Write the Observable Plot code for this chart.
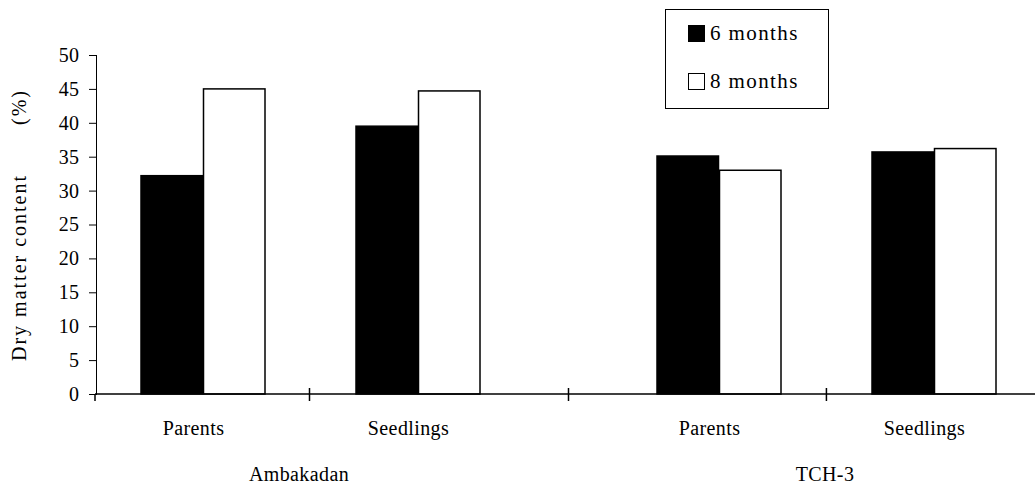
<!DOCTYPE html>
<html>
<head>
<meta charset="utf-8">
<script src="https://cdn.jsdelivr.net/npm/d3@7"></script>
<script src="https://cdn.jsdelivr.net/npm/@observablehq/plot@0.6"></script>
<style>
  html, body { margin: 0; padding: 0; background: #fff; overflow: hidden; }
  #wrap { position: relative; width: 1042px; height: 485px; overflow: hidden; }
  #wrap svg { display: block; max-width: none !important; }
  #wrap svg text { font-family: "Liberation Serif", "Times New Roman", serif; letter-spacing: 0.4px; }
  #legend {
    position: absolute; left: 665px; top: 9px; width: 164px; height: 100px;
    box-sizing: border-box; border: 1.5px solid #000; background: #fff;
    font-family: "Liberation Serif", "Times New Roman", serif; font-size: 21px; letter-spacing: 1.4px; color: #000;
  }
  .item { position: absolute; left: 22px; display: flex; align-items: center; white-space: nowrap; }
  .sw { width: 17px; height: 17px; box-sizing: border-box; border: 1.5px solid #000; margin-right: 5px; }
</style>
</head>
<body>
<div id="wrap"></div>
<script>
// ---- data ----
const groups = ["Ambakadan", "TCH-3"];
const stages = ["Parents", "Seedlings"];
const series = ["6 months", "8 months"];
// order: Ambakadan-Parents, Ambakadan-Seedlings, TCH-3-Parents, TCH-3-Seedlings
const sixMonths = [32.2, 39.5, 35.1, 35.7];
const eightMonths = [45.0, 44.7, 33.0, 36.2];
const yTicks = [0, 5, 10, 15, 20, 25, 30, 35, 40, 45, 50];
const yLabel = "Dry matter content\u00a0\u00a0\u00a0\u00a0\u00a0\u00a0\u00a0(%)";

const rows = [];
groups.forEach((g, gi) => stages.forEach((s, si) => {
  const k = gi * stages.length + si;
  rows.push({group: g, stage: s, series: series[0], value: sixMonths[k]});
  rows.push({group: g, stage: s, series: series[1], value: eightMonths[k]});
}));

const halfBand = 62.5;

const chart = Plot.plot({
  width: 1042,
  height: 485,
  marginLeft: 95,
  marginRight: 0,
  marginTop: 55,
  marginBottom: 91,
  style: {fontFamily: "'Liberation Serif', 'Times New Roman', serif", fontSize: "20px", color: "#000", background: "#fff", maxWidth: "none"},
  facet: {data: rows, x: "group"},
  fx: {domain: groups, axis: "bottom", paddingInner: 0.168, paddingOuter: 0, tickSize: 0, tickPadding: 72, label: null},
  x: {domain: stages, paddingInner: 0.421, paddingOuter: 0.206, tickSize: 0, tickPadding: 26, label: null},
  y: {domain: [0, 50], ticks: yTicks, tickSize: 7, tickPadding: 10, line: true,
      label: yLabel, labelAnchor: "center", labelArrow: false, labelOffset: 85, tickFormat: d => String(d)},
  marks: [
    Plot.barY(rows, {filter: d => d.series === series[0], x: "stage", y: "value",
      fill: "black", stroke: "black", strokeWidth: 1.5, insetLeft: 0, insetRight: halfBand}),
    Plot.barY(rows, {filter: d => d.series === series[1], x: "stage", y: "value",
      fill: "white", stroke: "black", strokeWidth: 1.5, insetLeft: halfBand, insetRight: 0})
  ]
});

document.getElementById("wrap").appendChild(chart);

// ---- category axis line and ticks, positioned through Plot's scales ----
function band(s) {
  return d3.scaleBand().domain(s.domain).range(s.range)
    .paddingInner(s.paddingInner ?? 0).paddingOuter(s.paddingOuter ?? 0)
    .align(s.align ?? 0.5);
}
const fxS = chart.scale("fx"), xS = chart.scale("x"), yS = chart.scale("y");
const fx = band(fxS), x = band(xS);
const y = d3.scaleLinear().domain(yS.domain).range(yS.range);
const y0 = y(0);
const abs = (g, s) => fx(g) + x(s) - xS.range[0];
const ticksX = [fx(groups[0])];
groups.forEach(g => ticksX.push((abs(g, stages[0]) + x.bandwidth() + abs(g, stages[1])) / 2));
for (let i = 1; i < groups.length; i++) ticksX.push((fx(groups[i - 1]) + fx.bandwidth() + fx(groups[i])) / 2);

const deco = d3.select(chart).append("g").attr("stroke", "black").attr("stroke-width", 1.5);
deco.append("line").attr("x1", fx(groups[0])).attr("x2", 1042).attr("y1", y0).attr("y2", y0);
ticksX.forEach((t, i) => {
  deco.append("line").attr("x1", t).attr("x2", t)
    .attr("y1", i === 0 ? y0 : y0 - 6).attr("y2", y0 + 7);
});

// label tweaks
d3.select(chart).selectAll("text").each(function() {
  const sel = d3.select(this);
  const t = this.textContent;
  if (stages.includes(t)) sel.attr("dx", -10);
  if (t === groups[0]) sel.attr("dx", -12);
  if (t === groups[1]) sel.attr("dx", -2);
  if (t.includes("Dry matter")) {
    sel.text(yLabel);
    sel.style("letter-spacing", "2px");
  }
});

// ---- legend ----
const legend = document.createElement("div");
legend.id = "legend";
series.forEach((s, i) => {
  const item = document.createElement("div");
  item.className = "item";
  item.style.top = (i === 0 ? 11 : 59) + "px";
  const sw = document.createElement("div");
  sw.className = "sw";
  sw.style.background = i === 0 ? "#000" : "#fff";
  const label = document.createElement("span");
  label.textContent = s;
  item.appendChild(sw);
  item.appendChild(label);
  legend.appendChild(item);
});
document.getElementById("wrap").appendChild(legend);
</script>
</body>
</html>
